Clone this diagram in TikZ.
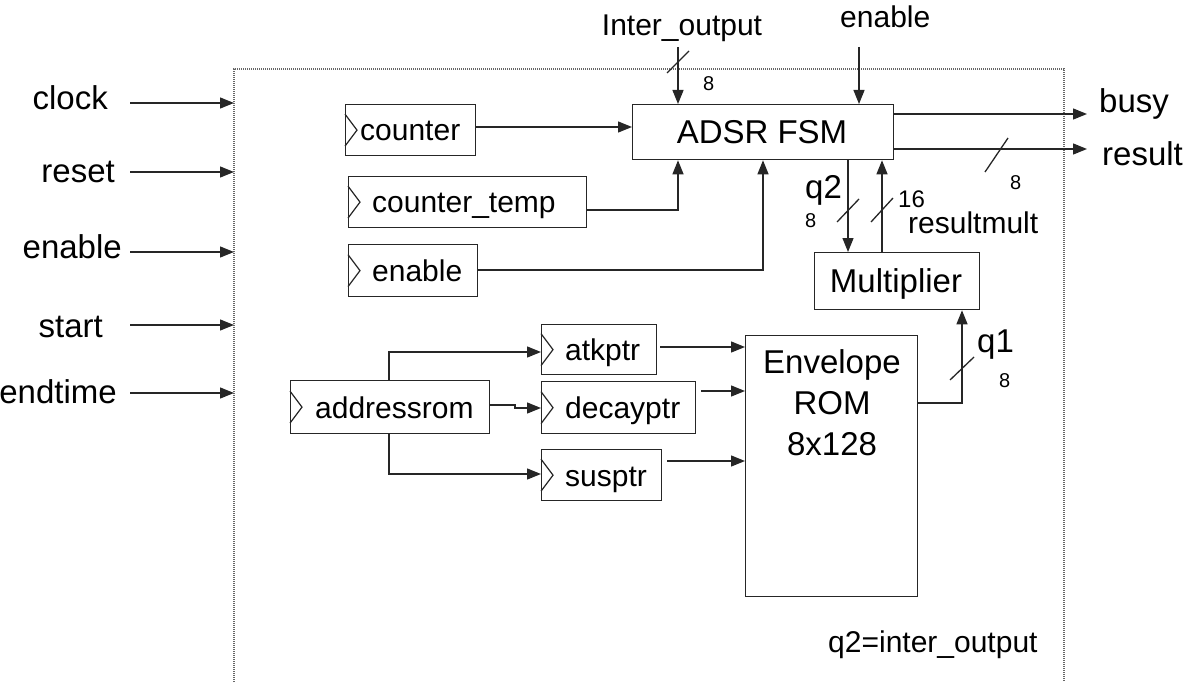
\documentclass[tikz,border=0pt]{standalone}
\usepackage{fontspec}
\setmainfont{Liberation Sans}
\usetikzlibrary{arrows.meta}
\newcommand\fA{\fontsize{33}{40}\selectfont}
\newcommand\fB{\fontsize{30}{36}\selectfont}
\newcommand\fC{\fontsize{24}{28}\selectfont}
\newcommand\fD{\fontsize{20}{24}\selectfont}
\tikzset{
  wire/.style={line width=1.3pt, draw=black!85},
  arr/.style={wire, -{Triangle[length=14pt,width=11pt]}},
  blk/.style={draw=black!85, line width=1.3pt, inner sep=0pt, anchor=north west, fill=white},
  frame/.style={draw=black!60, line width=1.2pt, dash pattern=on 1pt off 1pt},
  big/.style={font=\fA, inner sep=0pt, anchor=base},
  mid/.style={font=\fB, inner sep=0pt, anchor=base west},
  small/.style={font=\fD, inner sep=0pt, anchor=base west},
  tick/.style={line width=1.3pt, draw=black!85},
  clk/.style={line width=1.2pt, draw=black!85}
}
\begin{document}
\begin{tikzpicture}[x=1pt,y=-1pt]
\useasboundingbox (0,0) rectangle (1190,682);

% frame
\draw[frame] (234,682) -- (234,69) -- (1064,69) -- (1064,682);

% input labels and arrows
\node[big, anchor=base east] (lclock) at (108,110) {clock};
\node[big, anchor=base east] (lreset) at (115,182) {reset};
\node[big, anchor=base east] (lenable) at (122,258) {enable};
\node[big, anchor=base east] (lstart) at (103,337) {start};
\node[big, anchor=base east] (lendtime) at (117,403) {endtime};
\coordinate (i1) at (130,103); \coordinate (f1) at (234,103);
\coordinate (i2) at (130,172); \coordinate (f2) at (234,172);
\coordinate (i3) at (130,252); \coordinate (f3) at (234,252);
\coordinate (i4) at (130,325); \coordinate (f4) at (234,325);
\coordinate (i5) at (130,393); \coordinate (f5) at (234,393);
\draw[arr] (i1) -- (f1);
\draw[arr] (i2) -- (f2);
\draw[arr] (i3) -- (f3);
\draw[arr] (i4) -- (f4);
\draw[arr] (i5) -- (f5);

% blocks
\node[blk, minimum width=130pt, minimum height=51pt] (counter) at (345,104) {};
\node[blk, minimum width=238pt, minimum height=51pt] (ctemp) at (348,176) {};
\node[blk, minimum width=129pt, minimum height=52pt] (en) at (348,244) {};
\node[blk, minimum width=261pt, minimum height=55pt] (adsr) at (632,104) {};
\node[blk, minimum width=165pt, minimum height=57pt] (mult) at (814,252) {};
\node[blk, minimum width=172pt, minimum height=261pt] (rom) at (745,335) {};
\node[blk, minimum width=115pt, minimum height=50pt] (atk) at (541,324) {};
\node[blk, minimum width=154pt, minimum height=52pt] (dec) at (541,381) {};
\node[blk, minimum width=120pt, minimum height=51pt] (sus) at (541,449) {};
\node[blk, minimum width=199pt, minimum height=53pt] (addr) at (290,380) {};

% clock triangles
\foreach \b in {counter,ctemp,en,atk,dec,sus,addr}{
  \draw[clk] ([yshift=16pt]\b.west) -- ([xshift=12pt]\b.west) -- ([yshift=-16pt]\b.west);
}

% block texts
\node[mid] (tcounter) at (360,140.5) {counter};
\node[mid] (tctemp) at (372,212.5) {counter\_temp};
\node[mid] (ten) at (372,281) {enable};
\node[mid] (tatk) at (565,360) {atkptr};
\node[mid] (tdec) at (565,418) {decayptr};
\node[mid] (tsus) at (565,486) {susptr};
\node[mid] (taddr) at (315,418) {addressrom};
\node[big] (tadsr) at (762,143) {ADSR FSM};
\node[big] (tmult) at (896,292) {Multiplier};
\node[big] (trom1) at (832,373) {Envelope};
\node[big] (trom2) at (832,414) {ROM};
\node[big] (trom3) at (832,455) {8x128};
\node[mid] (note) at (828,652) {q2=inter\_output};

% top inputs
\node[mid, anchor=base] (linter) at (682,36) {Inter\_output};
\node[mid] (lentop) at (840,28) {enable};
\coordinate (tinter) at (678,47);
\coordinate (tenable) at (859,47);
\draw[arr] (tinter) -- (tinter |- adsr.north);
\draw[arr] (tenable) -- (tenable |- adsr.north);
\draw[tick] (667,73) -- (689,51);
\node[small] (n8a) at (703,91) {8};

% outputs
\node[big, anchor=base west] (lbusy) at (1099,113) {busy};
\node[big, anchor=base west] (lresult) at (1102,165) {result};
\coordinate (obusy) at (1087,114);
\coordinate (oresult) at (1087,149);
\draw[arr] (adsr.east |- obusy) -- (obusy);
\draw[arr] (adsr.east |- oresult) -- (oresult);
\draw[tick] (985,172) -- (1008,138);
\node[small] (n8b) at (1010,189) {8};

% counters to ADSR
\draw[arr] (counter.east |- 0,127) -- (adsr.west |- 0,127);
\draw[arr] (ctemp.east |- 0,210) -| (adsr.south -| 678,0);
\draw[arr] (en.east |- 0,270) -| (adsr.south -| 763,0);

% ADSR <-> Multiplier
\draw[arr] (adsr.south -| 848,0) -- (mult.north -| 848,0);
\draw[arr] (mult.north -| 882,0) -- (adsr.south -| 882,0);
\draw[tick] (837,222) -- (859,199);
\draw[tick] (871,222) -- (893,198);
\node[big, anchor=base west] (lq2) at (805,198) {q2};
\node[small] (n8c) at (805,227) {8};
\node[font=\fC, inner sep=0pt, anchor=base west] (n16) at (898,207) {16};
\node[mid] (lrm) at (908,233) {resultmult};

% ROM -> Multiplier
\draw[arr] (rom.east |- 0,403) -| (mult.south -| 962,0);
\draw[tick] (950,380) -- (974,357);
\node[big, anchor=base west] (lq1) at (977,352) {q1};
\node[small] (n8d) at (999,387) {8};

% pointers -> ROM
\draw[arr, shorten <=3pt] (atk.east |- 0,347) -- (rom.west |- 0,347);
\draw[arr, shorten <=5pt] (dec.east |- 0,391) -- (rom.west |- 0,391);
\draw[arr, shorten <=5pt] (sus.east |- 0,461) -- (rom.west |- 0,461);

% addressrom -> pointers
\draw[arr] (addr.north -| 389,0) |- (atk.west |- 0,352);
\draw[arr] (addr.east |- 0,405) -- (515,405) -- (515,408) -- (dec.west |- 0,408);
\draw[arr] (addr.south -| 389,0) |- (sus.west |- 0,474);
\end{tikzpicture}
\end{document}
